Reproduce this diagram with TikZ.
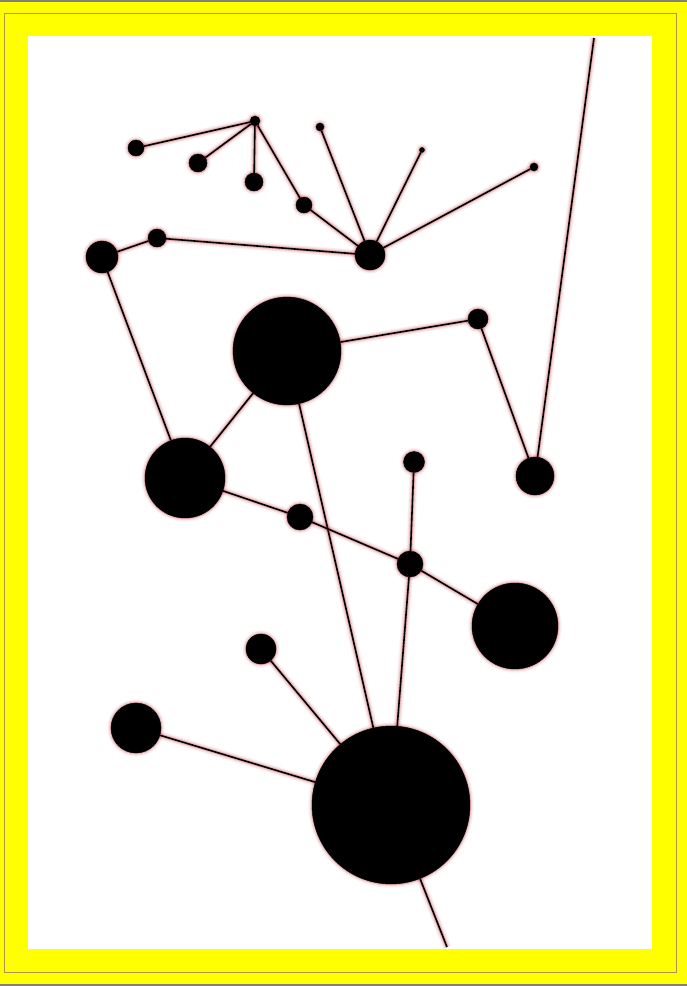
\documentclass[tikz,border=0pt]{standalone}
\definecolor{glowc}{RGB}{190,40,55}
\definecolor{framey}{RGB}{255,255,0}
\definecolor{frameline}{RGB}{175,150,70}
\tikzset{
  glow/.style={
    preaction={draw=glowc,line width=#1+7pt,opacity=0.05},
    preaction={draw=glowc,line width=#1+5pt,opacity=0.08},
    preaction={draw=glowc,line width=#1+3pt,opacity=0.12},
    preaction={draw=glowc,line width=#1+1.5pt,opacity=0.2}},
  dot/.style={circle,fill=black,draw=black,line width=0.4pt,inner sep=0pt,minimum size=#1,glow=0.4pt},
  link/.style={draw=black,line width=1.6pt,glow=1.6pt},
}
\begin{document}
\begin{tikzpicture}[x=1pt,y=-1pt]
\useasboundingbox (0,0) rectangle (687,986);
\fill[framey] (0,0) rectangle (687,986);
\draw[gray,line width=1.5pt] (0,1) -- (687,1);
\draw[gray,line width=1.5pt] (0,985) -- (687,985);
\draw[frameline,line width=1pt] (4.5,13.5) rectangle (676,972);
\fill[white] (28,36) rectangle (652,949);

\coordinate (top) at (594,38);
\coordinate (bot) at (447,947);

\node[dot=16pt] (A) at (136,148) {};
\node[dot=18pt] (B) at (198,163) {};
\node[dot=18pt] (C) at (254,182) {};
\node[dot=10pt] (D) at (255,121) {};
\node[dot=16pt] (E) at (304,205) {};
\node[dot=8pt] (F) at (320,127) {};
\node[dot=5pt] (G) at (422,150) {};
\node[dot=8pt] (H) at (534,167) {};
\node[dot=30pt] (I) at (370,255) {};
\node[dot=18pt] (J) at (157,238) {};
\node[dot=32pt] (K) at (102,257) {};
\node[dot=108pt] (L) at (287,351) {};
\node[dot=20pt] (M) at (478,319) {};
\node[dot=80pt] (N) at (185,478) {};
\node[dot=38pt] (O) at (535,476) {};
\node[dot=21pt] (P) at (414,462) {};
\node[dot=26pt] (Q) at (300,517) {};
\node[dot=26pt] (R) at (410,564) {};
\node[dot=86pt] (S) at (515,626) {};
\node[dot=30pt] (T) at (261,649) {};
\node[dot=50pt] (U) at (136,728) {};
\node[dot=158pt] (V) at (391,805) {};

\path[link] (D) -- (A);
\path[link] (D) -- (B);
\path[link] (D) -- (C);
\path[link] (D) -- (E);
\path[link] (E) -- (I);
\path[link] (F) -- (I);
\path[link] (G) -- (I);
\path[link] (H) -- (I);
\path[link] (I) -- (J);
\path[link] (J) -- (K);
\path[link] (K) -- (N);
\path[link] (N) -- (L);
\path[link] (L) -- (M);
\path[link] (M) -- (O);
\path[link] (O) -- (top);
\path[link] (L) -- (V);
\path[link] (N) -- (Q);
\path[link] (Q) -- (R);
\path[link] (R) -- (P);
\path[link] (R) -- (S);
\path[link] (R) -- (V);
\path[link] (T) -- (V);
\path[link] (U) -- (V);
\path[link] (V) -- (bot);
\end{tikzpicture}
\end{document}
